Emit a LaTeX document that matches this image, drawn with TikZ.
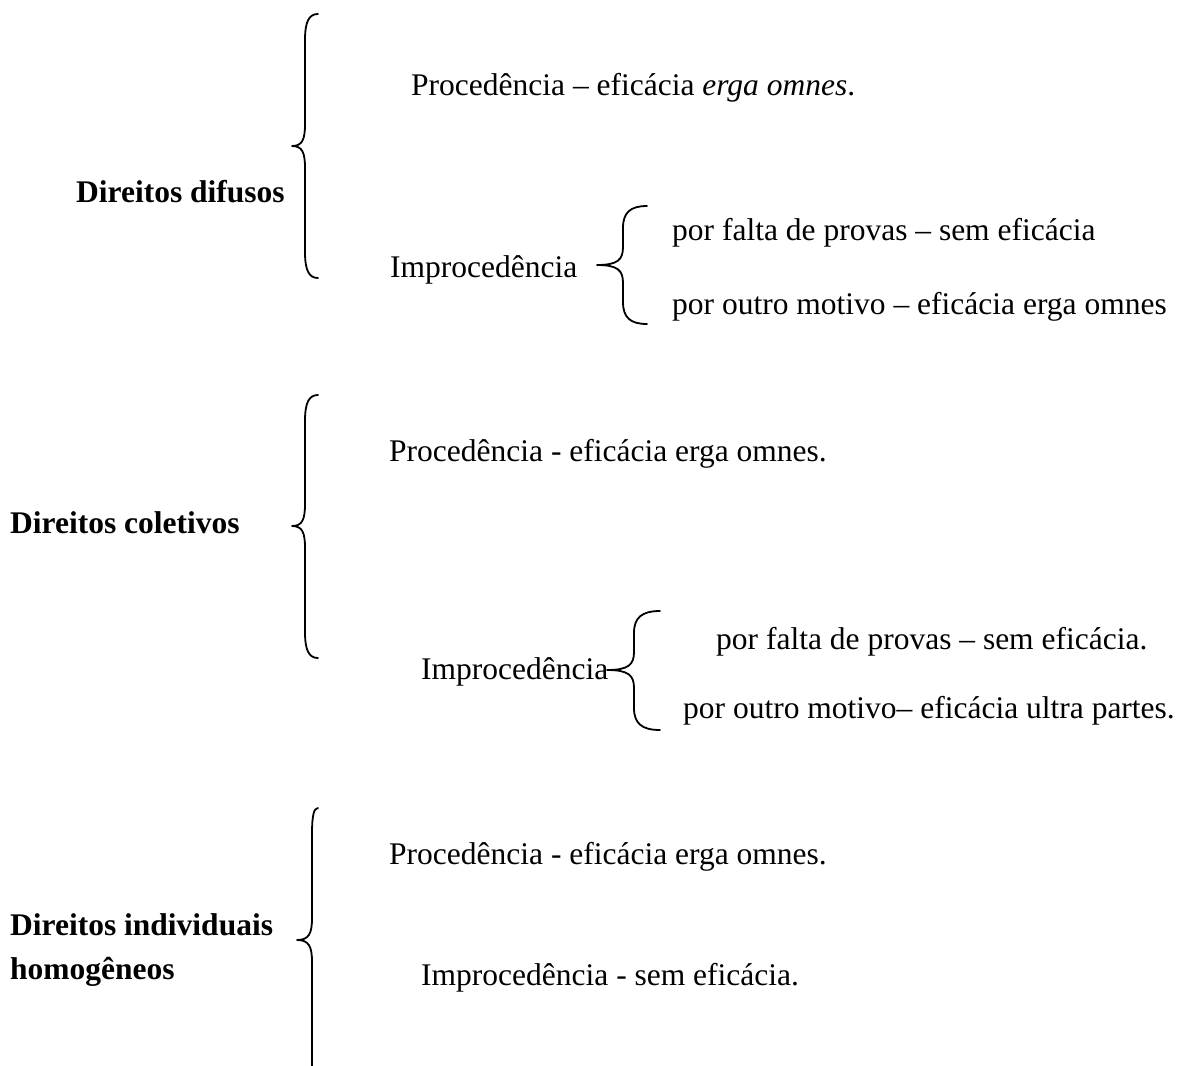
\documentclass[tikz,border=0pt]{standalone}
\usepackage{fontspec}
\setmainfont{Liberation Serif}
\begin{document}
\begin{tikzpicture}[x=1pt,y=-1pt,
  txt/.style={anchor=base west,inner sep=0pt,font=\fontsize{31.5}{38}\selectfont},
  head/.style={txt,font=\fontsize{31.5}{38}\selectfont\bfseries},
  brace/.style={line width=1.8pt,line join=round,line cap=round}]
\useasboundingbox (0,0) rectangle (1187,1066);
\clip (0,0) rectangle (1187,1066);
% brace: #1 end x, #2 vertical x, #3 tip x, #4 top y, #5 mid y, #6 bottom y, #7 end radius, #8 tip radius
\newcommand{\mybrace}[8]{%
  \draw[brace] (#1,#4) .. controls (#2+0.3*#1-0.3*#2,#4) and (#2,#4+0.3*#7) .. (#2,#4+#7) -- (#2,#5-#8)
    .. controls (#2,#5-0.3*#8) and (#2-0.2*#2+0.2*#3,#5) .. (#3,#5)
    .. controls (#2-0.2*#2+0.2*#3,#5) and (#2,#5+0.3*#8) .. (#2,#5+#8)
    -- (#2,#6-#7) .. controls (#2,#6-0.3*#7) and (#2+0.3*#1-0.3*#2,#6) .. (#1,#6);}
% group 1
\node[head] (d1) at (76,202) {Direitos difusos};
\node[txt] (p1) at (411,95) {Procedência – eficácia \textit{erga omnes}.};
\node[txt] (i1) at (390,277) {Improcedência};
\node[txt] (f1) at (672,240) {por falta de provas – sem eficácia};
\node[txt] (o1) at (672,314) {por outro motivo – eficácia erga omnes};
\mybrace{318}{305}{292}{14}{146}{278}{26}{22}
\mybrace{647}{623}{597}{206}{265}{324}{22}{18}
% group 2
\node[head] (d2) at (10,533) {Direitos coletivos};
\node[txt] (p2) at (389,461) {Procedência - eficácia erga omnes.};
\node[txt] (i2) at (421,679) {Improcedência};
\node[txt] (f2) at (716,649) {por falta de provas – sem eficácia.};
\node[txt] (o2) at (683,718) {por outro motivo– eficácia ultra partes.};
\mybrace{318}{305}{292}{395}{526}{658}{26}{22}
\mybrace{660}{634}{607}{611}{670}{730}{22}{18}
% group 3
\node[head] (d3) at (10,935) {Direitos individuais};
\node[head] (d3b) at (10,979) {homogêneos};
\node[txt] (p3) at (389,864) {Procedência - eficácia erga omnes.};
\node[txt] (i3) at (421,985) {Improcedência - sem eficácia.};
\mybrace{318}{312}{297}{808}{940}{1090}{26}{22}
\end{tikzpicture}
\end{document}
